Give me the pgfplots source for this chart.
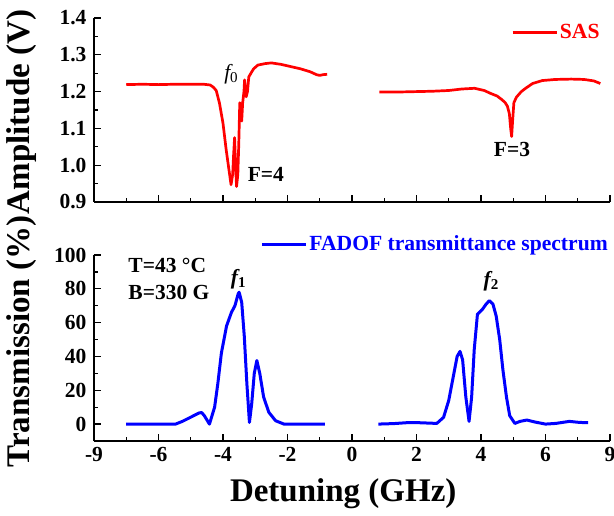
\documentclass[border=0pt]{standalone}
\usepackage{fontspec}
\setmainfont{Liberation Serif}
\usepackage{pgfplots}
\pgfplotsset{compat=1.18}

\newcommand{\tfont}{\fontsize{21.5}{21.5}\selectfont\bfseries}
\newcommand{\gfont}{\fontsize{21.6}{21.6}\selectfont\bfseries}
\newcommand{\lfont}{\fontsize{33}{33}\selectfont\bfseries}

\pgfplotsset{
 base/.style={
  scale only axis, width=516pt, anchor=south west,
  xmin=-8, xmax=8,
  axis x line*=bottom, axis y line*=left,
  axis line style={-, line width=1.4pt},
  every tick/.style={line width=1.3pt, black},
  tick align=inside,
  major tick length=7pt, minor tick length=4pt,
  xtick={-8,-6,...,8}, minor x tick num=1,
  minor y tick num=1,
  tick label style={font=\tfont},
  yticklabel style={xshift=-4pt},
  xticklabel style={yshift=-3pt},
  /pgf/number format/assume math mode=true,
  clip=false,
  legend style={draw=none, fill=none, inner sep=0pt, font=\gfont, anchor=east},
  legend image code/.code={\draw[##1] (0pt,0pt) -- (44pt,0pt);},
  legend cell align=left,
  label style={font=\lfont},
 }
}

\begin{document}
\begin{tikzpicture}
\path[use as bounding box] (0,0) rectangle (614pt,515pt);

% ---------- top panel: SAS ----------
\begin{axis}[base, at={(94pt,313pt)}, height=184pt,
  ymin=0.9, ymax=1.4, ytick={0.9,1.0,1.1,1.2,1.3,1.4},
  xticklabels={},
  yticklabel style={/pgf/number format/.cd, fixed, fixed zerofill, precision=1},
  ylabel={Amplitude (V)},
  ylabel style={at={(axis description cs:-0.1395,0.49)}, anchor=center},
  legend style={at={(0.984,0.922)}},
]
\addplot[red, line width=2.7pt, line join=round] table {
-7.00 1.219
-6.50 1.220
-6.00 1.219
-5.50 1.220
-5.00 1.220
-4.60 1.220
-4.40 1.218
-4.30 1.212
-4.21 1.203
-4.11 1.169
-4.00 1.114
-3.90 1.041
-3.80 0.978
-3.75 0.947
-3.70 0.975
-3.67 1.030
-3.64 1.075
-3.61 1.000
-3.58 0.942
-3.54 0.975
-3.51 1.060
-3.48 1.170
-3.46 1.125
-3.42 1.120
-3.39 1.170
-3.35 1.200
-3.33 1.232
-3.30 1.200
-3.28 1.186
-3.24 1.200
-3.20 1.240
-3.12 1.252
-3.05 1.262
-2.92 1.272
-2.70 1.276
-2.50 1.278
-2.20 1.274
-1.90 1.268
-1.60 1.262
-1.30 1.254
-1.10 1.246
-1.00 1.244
-0.90 1.246
-0.77 1.247
};
\addlegendentry{\textcolor{red}{SAS}}
\addplot[red, line width=2.7pt, line join=round, forget plot] table {
0.85 1.199
1.50 1.199
2.00 1.200
2.50 1.201
3.00 1.203
3.40 1.207
3.80 1.209
4.10 1.203
4.30 1.195
4.50 1.188
4.65 1.178
4.75 1.170
4.82 1.160
4.88 1.140
4.92 1.100
4.95 1.078
4.98 1.120
5.02 1.170
5.10 1.185
5.25 1.200
5.40 1.210
5.60 1.222
5.90 1.230
6.30 1.233
6.80 1.234
7.20 1.233
7.50 1.229
7.70 1.222
};
\node[font=\tfont] at (rel axis cs:0.266,0.695) {\mdseries\itshape f\textsubscript{\upshape 0}};
\node[font=\tfont] at (rel axis cs:0.333,0.150) {F=4};
\node[font=\tfont] at (rel axis cs:0.810,0.283) {F=3};
\end{axis}

% ---------- bottom panel: FADOF ----------
\begin{axis}[base, at={(94pt,74pt)}, height=186pt,
  ymin=-10, ymax=100, ytick={0,20,40,60,80,100},
  xticklabels={-9,-6,-4,-2,0,2,4,6,9},
  ylabel={Transmission (\%)},
  ylabel style={at={(axis description cs:-0.1395,0.535)}, anchor=center},
  xlabel={Detuning (GHz)},
  xlabel style={at={(axis description cs:0.483,0)}, anchor=center, yshift=-53pt},
  legend style={at={(1.0,1.059)}},
]
\addplot[blue, line width=3pt, line join=round] table {
-7.00 0
-6.00 0
-5.47 0
-5.26 1.6
-5.05 3.6
-4.74 6.6
-4.66 6.8
-4.58 5
-4.42 0
-4.26 10
-4.16 24
-4.05 42
-3.89 58
-3.74 66
-3.63 70
-3.53 77
-3.50 78
-3.42 72
-3.34 52
-3.26 24
-3.18 1
-3.11 12
-3.03 30
-2.95 37.6
-2.86 30
-2.74 16
-2.58 7
-2.37 2
-2.11 0
-0.84 0
};
\addlegendentry{\textcolor{blue}{FADOF transmittance spectrum}}
\addplot[blue, line width=3pt, line join=round, forget plot] table {
0.82 0
1.30 0.3
1.68 0.8
2.10 0.8
2.63 0.4
2.84 4
3.00 14
3.16 30
3.26 40
3.35 43
3.43 38
3.53 16
3.63 1.6
3.71 16
3.79 44
3.89 65
4.05 68
4.16 71
4.26 73
4.37 71
4.47 64
4.58 50
4.68 32
4.79 16
4.89 5
5.05 0.4
5.21 1.6
5.42 2.4
5.68 1.2
6.00 0
6.32 0.4
6.74 1.6
7.05 1
7.32 0.8
};
\node[font=\tfont, anchor=west] at (rel axis cs:0.06,0.946) {T=43 °C};
\node[font=\tfont, anchor=west] at (rel axis cs:0.06,0.798) {B=330 G};
\node[font=\tfont] at (rel axis cs:0.280,0.871) {\itshape f\textsubscript{\upshape 1}};
\node[font=\tfont] at (rel axis cs:0.770,0.860) {\itshape f\textsubscript{\upshape 2}};
\end{axis}
\end{tikzpicture}
\end{document}
